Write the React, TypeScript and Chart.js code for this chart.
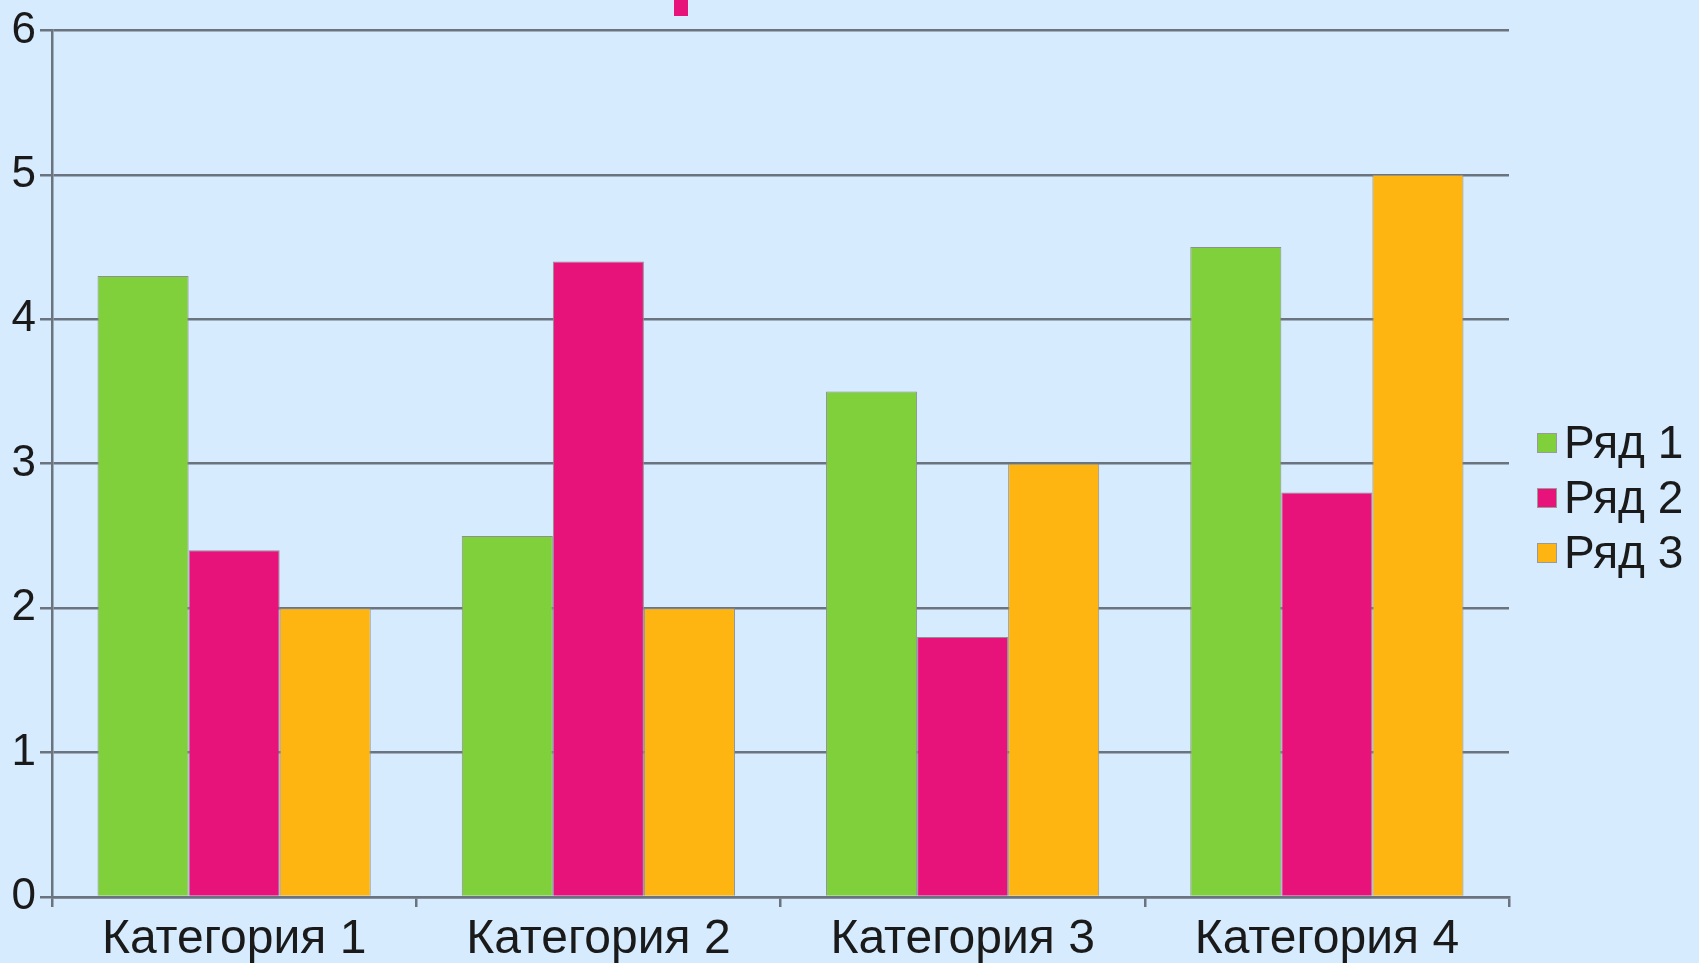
import React, { useEffect, useRef } from "react";
import { Chart, registerables } from "chart.js";

Chart.register(...registerables);

const categories = ["Категория 1", "Категория 2", "Категория 3", "Категория 4"];
const seriesNames = ["Ряд 1", "Ряд 2", "Ряд 3"];
const series1 = [4.3, 2.5, 3.5, 4.5];
const series2 = [2.4, 4.4, 1.8, 2.8];
const series3 = [2, 2, 3, 5];
const yTicks = [0, 1, 2, 3, 4, 5, 6];

const colors = ["#80D03C", "#E8137A", "#FFB511"];
const BG = "#D6EBFD";
const GRID = "#6a737e";
const FONT = "'Liberation Sans', Arial, sans-serif";

const legendPlugin = {
  id: "customLegend",
  afterDraw(chart: any) {
    const ctx = chart.ctx;
    const x0 = chart.chartArea.right + 28;
    const y0 = 443;
    const step = 55;
    ctx.save();
    ctx.font = `46px ${FONT}`;
    ctx.textBaseline = "middle";
    ctx.textAlign = "left";
    chart.data.datasets.forEach((ds: any, i: number) => {
      const y = y0 + i * step;
      ctx.fillStyle = ds.backgroundColor;
      ctx.fillRect(x0, y - 10, 20, 20);
      ctx.strokeStyle = "#9a9a9a";
      ctx.lineWidth = 1;
      ctx.strokeRect(x0 + 0.5, y - 9.5, 19, 19);
      ctx.fillStyle = "#1a1a1a";
      ctx.fillText(ds.label, x0 + 27, y + 2);
    });
    ctx.restore();
  },
};

export default function App() {
  const ref = useRef<HTMLCanvasElement | null>(null);
  useEffect(() => {
    if (!ref.current) return;
    const seriesData = [series1, series2, series3];
    const chart = new Chart(ref.current, {
      type: "bar",
      data: {
        labels: categories,
        datasets: seriesNames.map((name, i) => ({
          label: name,
          data: seriesData[i],
          backgroundColor: colors[i],
          borderColor: "#8c9090",
          borderWidth: 1,
          barPercentage: 1,
          categoryPercentage: 0.75,
        })),
      },
      options: {
        animation: false,
        responsive: false,
        layout: { padding: { top: 27, right: 190, bottom: 0, left: 0 } },
        plugins: { legend: { display: false }, tooltip: { enabled: false } },
        scales: {
          x: {
            offset: true,
            grid: {
              display: true,
              offset: true,
              drawOnChartArea: false,
              drawTicks: true,
              tickLength: 10,
              color: GRID,
              lineWidth: 2.5,
            },
            border: { display: true, color: GRID, width: 2.5 },
            ticks: {
              color: "#1a1a1a",
              font: { family: FONT, size: 48 },
              padding: 4,
              maxRotation: 0,
            },
            afterFit(scale: any) {
              scale.height = 66;
            },
          },
          y: {
            min: yTicks[0],
            max: yTicks[yTicks.length - 1],
            afterBuildTicks(scale: any) {
              scale.ticks = yTicks.map((v) => ({ value: v }));
            },
            grid: {
              color: GRID,
              lineWidth: 2.5,
              tickLength: 12,
            },
            border: { display: true, color: GRID, width: 2.5 },
            ticks: {
              color: "#1a1a1a",
              font: { family: FONT, size: 44 },
              padding: 4,
            },
            afterFit(scale: any) {
              scale.width = 52;
            },
          },
        },
      },
      plugins: [legendPlugin],
    });
    return () => chart.destroy();
  }, []);
  return (
    <div style={{ position: "fixed", left: 0, top: 0, width: 1699, height: 963, background: BG, overflow: "hidden" }}>
      <div style={{ position: "absolute", left: 674, top: 0, width: 14, height: 16, background: "#E8137A" }} />
      <canvas ref={ref} width={1699} height={963} style={{ position: "absolute", left: 0, top: 0 }} />
    </div>
  );
}
